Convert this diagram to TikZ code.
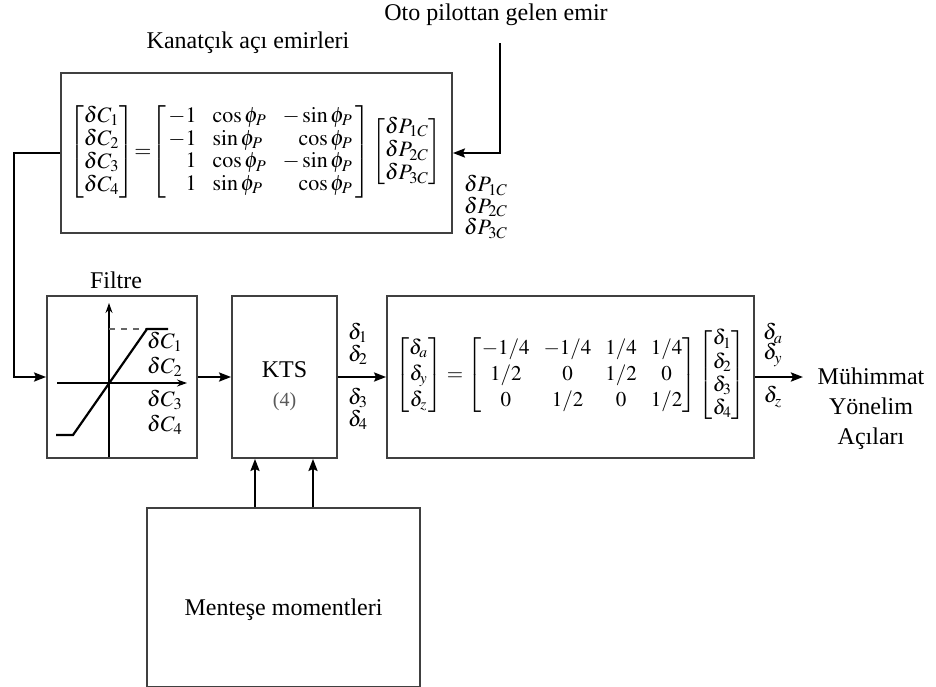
\documentclass[tikz,border=0pt]{standalone}
\usepackage{amsmath}
\usepackage{mathptmx}
\usepackage{fontspec}
\setmainfont{Liberation Serif}
\usetikzlibrary{arrows.meta}

\tikzset{
  blok/.style={draw=black!75,line width=0.9pt,inner sep=0pt},
  ok/.style={line width=1.2pt,-{Stealth[length=6pt,width=4.5pt,inset=1pt]}},
  yazi/.style={font=\fontsize{12}{15}\selectfont},
  mat/.style={font=\fontsize{11}{11}\selectfont,inner sep=0pt},
}

\begin{document}
\begin{tikzpicture}[x=0.5pt,y=-0.5pt]
\useasboundingbox (0,0) rectangle (936,686);
\node[blok,minimum width=195.5pt,minimum height=80pt] (kanat) at (256.5,153) {};
\node[blok,minimum width=75pt,minimum height=81pt] (filtre) at (122,377) {};
\node[blok,minimum width=52.5pt,minimum height=81pt] (kts) at (284.5,377) {};
\node[blok,minimum width=183.5pt,minimum height=81pt] (donus) at (570.5,377) {};
\node[blok,minimum width=136.5pt,minimum height=89.5pt] (mentese) at (283.5,597.5) {};
\node[yazi] (kanatlbl) at (248,43) {Kanatçık açı emirleri};
\node[yazi] (otolbl) at (496,15) {Oto pilottan gelen emir};
\node[yazi] (filtrelbl) at (116,280) {Filtre};
\node[yazi] (ktslbl) at (284.5,370) {KTS};
\node[font=\fontsize{10}{12}\selectfont,text=black!65] (ktsno) at (284.5,402) {(4)};
\node[yazi] (menteselbl) at (283.5,610) {Menteşe momentleri};
\node[yazi,align=center] (cikislbl) at (871,409) {Mühimmat\\Yönelim\\Açıları};
\node[mat] (kanateq) at (255.5,152) {\renewcommand{\arraystretch}{1.03}$
  \begin{bmatrix}\delta C_1\\ \delta C_2\\ \delta C_3\\ \delta C_4\end{bmatrix}
  \!\!=\!\!\left[\begin{array}{@{\,}r@{\hspace{8pt}}l@{\hspace{8pt}}r@{\,}}
  -1 & \cos\phi_P & -\sin\phi_P\\
  -1 & \sin\phi_P & \cos\phi_P\\
  1 & \cos\phi_P & -\sin\phi_P\\
  1 & \sin\phi_P & \cos\phi_P
  \end{array}\right]
  \begin{bmatrix}\delta P_{1C}\\ \delta P_{2C}\\ \delta P_{3C}\end{bmatrix}$};
\node[mat,align=left,font=\fontsize{11}{10.8}\selectfont] (plbl) at (486,207)
  {$\delta P_{1C}$\\$\delta P_{2C}$\\$\delta P_{3C}$};
\node[mat,font=\fontsize{10.5}{11}\selectfont] (donuseq) at (570.5,375) {\setlength{\arraycolsep}{3.5pt}$
  \renewcommand{\arraystretch}{1.18}
  \begin{bmatrix}\delta_a\\ \delta_y\\ \delta_z\end{bmatrix}
  =\begin{bmatrix}
  -1/4 & -1/4 & 1/4 & 1/4\\
  1/2 & 0 & 1/2 & 0\\
  0 & 1/2 & 0 & 1/2
  \end{bmatrix}
  \renewcommand{\arraystretch}{1.05}
  \begin{bmatrix}\delta_1\\ \delta_2\\ \delta_3\\ \delta_4\end{bmatrix}$};
\node[mat,align=center,font=\fontsize{11}{11}\selectfont] (d12) at (358,344) {$\delta_1$\\$\delta_2$};
\node[mat,align=center,font=\fontsize{11}{11}\selectfont] (d34) at (358,409) {$\delta_3$\\$\delta_4$};
\node[mat,align=center,font=\fontsize{11}{10}\selectfont] (dab) at (773,345) {$\delta_a$\\$\delta_y$};
\node[mat] (dz) at (773,397) {$\delta_z$};
\node[mat,align=center,font=\fontsize{11}{12.5}\selectfont] (c12) at (165,354) {$\delta C_1$\\$\delta C_2$};
\node[mat,align=center,font=\fontsize{11}{12.5}\selectfont] (c34) at (165,412) {$\delta C_3$\\$\delta C_4$};
\draw[line width=0.6pt,-{Stealth[length=5pt,width=3.5pt]}] (109,457) -- (109,303);
\draw[line width=0.6pt,-{Stealth[length=5pt,width=3.5pt]}] (57,383) -- (187,383);
\draw[black!60,dashed,line width=0.6pt] (109,329) -- (147,329);
\draw[line width=1.1pt] (56,435) -- (73,435) -- (147,329) -- (168,329);
\coordinate (sol) at (14,377);
\coordinate (otoust) at (500,43);
\coordinate (cikisuc) at (803,377);
\draw[ok] (kanat.west) -| (sol) -- (filtre.west);
\draw[ok] (otoust) |- (kanat.east);
\draw[ok] (filtre) -- (kts);
\draw[ok] (kts) -- (donus);
\draw[ok] (donus) -- (cikisuc);
\draw[ok] (mentese.north -| 255,0) -- (kts.south -| 255,0);
\draw[ok] (mentese.north -| 313,0) -- (kts.south -| 313,0);
\end{tikzpicture}
\end{document}
